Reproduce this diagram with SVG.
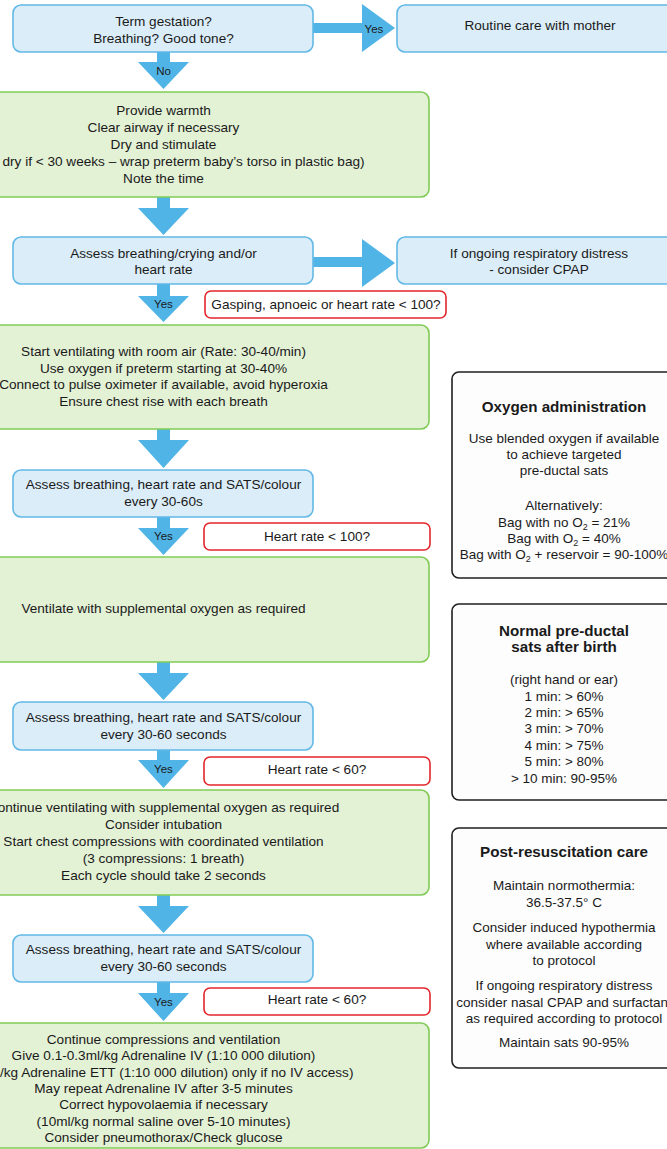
<svg xmlns="http://www.w3.org/2000/svg" width="667" height="1149" viewBox="0 0 667 1149">
<style>
text{font-family:"Liberation Sans",Arial,sans-serif;font-size:13.6px;fill:#1a1a1a;text-anchor:middle}
.blue{fill:#DAEDF8;stroke:#62B8E6;stroke-width:1.6}
.green{fill:#E3F1D5;stroke:#80CB55;stroke-width:1.6}
.red{fill:#FFFFFF;stroke:#E3262B;stroke-width:1.6}
.side{fill:#FDFDFD;stroke:#1f1f1f;stroke-width:1.6}
.arr{fill:#51B4E6}
.lbl{font-size:11.5px}
.ttl{font-weight:bold;font-size:15.2px}
.st{font-size:13.5px}
</style>
<rect width="667" height="1149" fill="#FFFFFF"/>
<g id="connectors">
<polygon class="arr" points="157,52 170,52 170,62 189,62 163.5,89 138,62 157,62"/>
<text class="lbl" x="163.5" y="75">No</text>
<polygon class="arr" points="313,23 362,23 362,4 395,28 362,52 362,33 313,33"/>
<text class="lbl" x="374" y="33">Yes</text>
<polygon class="arr" points="157,197 170,197 170,208 189,208 163.5,235 138,208 157,208"/>
<polygon class="arr" points="313,257 362,257 362,239 395,263 362,287 362,267 313,267"/>
<polygon class="arr" points="157,284 170,284 170,296 189,296 163.5,322 138,296 157,296"/>
<text class="lbl" x="163.5" y="307.5">Yes</text>
<polygon class="arr" points="157,429 170,429 170,440 189,440 163.5,468 138,440 157,440"/>
<polygon class="arr" points="157,517 170,517 170,528 189,528 163.5,555 138,528 157,528"/>
<text class="lbl" x="163.5" y="540">Yes</text>
<polygon class="arr" points="157,662 170,662 170,673 189,673 163.5,700 138,673 157,673"/>
<polygon class="arr" points="157,750 170,750 170,760 189,760 163.5,788 138,760 157,760"/>
<text class="lbl" x="163.5" y="773">Yes</text>
<polygon class="arr" points="157,895 170,895 170,906 189,906 163.5,933 138,906 157,906"/>
<polygon class="arr" points="157,982 170,982 170,993 189,993 163.5,1021 138,993 157,993"/>
<text class="lbl" x="163.5" y="1006">Yes</text>
</g>
<g id="n-term">
<rect class="blue" x="13" y="5" width="300" height="47" rx="8"/>
<text x="163.5" y="25.5">Term gestation?</text>
<text x="163.5" y="42.5">Breathing? Good tone?</text>
</g>
<g id="n-routine">
<rect class="blue" x="397" y="5" width="290" height="47" rx="8"/>
<text x="540" y="30">Routine care with mother</text>
</g>
<g id="n-warmth">
<rect class="green" x="-110" y="92" width="539" height="105" rx="8"/>
<text x="163.5" y="114.5">Provide warmth</text>
<text x="163.5" y="131.5">Clear airway if necessary</text>
<text x="163.5" y="148.5">Dry and stimulate</text>
<text x="163.5" y="165.5">(Don’t dry if &lt; 30 weeks – wrap preterm baby’s torso in plastic bag)</text>
<text x="163.5" y="182.5">Note the time</text>
</g>
<g id="n-assess1">
<rect class="blue" x="13" y="237" width="300" height="47" rx="8"/>
<text x="163.5" y="257.5">Assess breathing/crying and/or</text>
<text x="163.5" y="274.3">heart rate</text>
</g>
<g id="n-cpap">
<rect class="blue" x="397" y="237" width="290" height="47" rx="8"/>
<text x="539" y="257.5">If ongoing respiratory distress</text>
<text x="539" y="274.3">- consider CPAP</text>
</g>
<g id="n-gasping">
<rect class="red" x="205" y="291" width="241" height="27" rx="6"/>
<text x="326" y="309">Gasping, apnoeic or heart rate &lt; 100?</text>
</g>
<g id="n-ventilate">
<rect class="green" x="-110" y="325" width="539" height="104" rx="8"/>
<text x="163.5" y="356">Start ventilating with room air (Rate: 30-40/min)</text>
<text x="163.5" y="372.7">Use oxygen if preterm starting at 30-40%</text>
<text x="163.5" y="389.3">Connect to pulse oximeter if available, avoid hyperoxia</text>
<text x="163.5" y="406">Ensure chest rise with each breath</text>
</g>
<g id="n-assess2">
<rect class="blue" x="13" y="470" width="300" height="47" rx="8"/>
<text x="163.5" y="489">Assess breathing, heart rate and SATS/colour</text>
<text x="163.5" y="506">every 30-60s</text>
</g>
<g id="n-hr100">
<rect class="red" x="204" y="523" width="226" height="27" rx="6"/>
<text x="317" y="540.7">Heart rate &lt; 100?</text>
</g>
<g id="n-supp">
<rect class="green" x="-110" y="557" width="539" height="105" rx="8"/>
<text x="163.5" y="613.3">Ventilate with supplemental oxygen as required</text>
</g>
<g id="n-assess3">
<rect class="blue" x="13" y="702" width="300" height="48" rx="8"/>
<text x="163.5" y="722.3">Assess breathing, heart rate and SATS/colour</text>
<text x="163.5" y="739">every 30-60 seconds</text>
</g>
<g id="n-hr60a">
<rect class="red" x="204" y="757" width="226" height="28" rx="6"/>
<text x="317" y="774.3">Heart rate &lt; 60?</text>
</g>
<g id="n-compress">
<rect class="green" x="-110" y="790" width="539" height="105" rx="8"/>
<text x="163.5" y="812.3">Continue ventilating with supplemental oxygen as required</text>
<text x="163.5" y="829.3">Consider intubation</text>
<text x="163.5" y="846.3">Start chest compressions with coordinated ventilation</text>
<text x="163.5" y="863.3">(3 compressions: 1 breath)</text>
<text x="163.5" y="880.3">Each cycle should take 2 seconds</text>
</g>
<g id="n-assess4">
<rect class="blue" x="13" y="935" width="300" height="47" rx="8"/>
<text x="163.5" y="954.3">Assess breathing, heart rate and SATS/colour</text>
<text x="163.5" y="971">every 30-60 seconds</text>
</g>
<g id="n-hr60b">
<rect class="red" x="204" y="988" width="226" height="27" rx="6"/>
<text x="317" y="1004.3">Heart rate &lt; 60?</text>
</g>
<g id="n-adrenaline">
<rect class="green" x="-110" y="1023" width="539" height="125" rx="8"/>
<text x="163.5" y="1044">Continue compressions and ventilation</text>
<text x="163.5" y="1060.3">Give 0.1-0.3ml/kg Adrenaline IV (1:10 000 dilution)</text>
<text x="163.5" y="1076.6">(1ml/kg Adrenaline ETT (1:10 000 dilution) only if no IV access)</text>
<text x="163.5" y="1092.9">May repeat Adrenaline IV after 3-5 minutes</text>
<text x="163.5" y="1109.2">Correct hypovolaemia if necessary</text>
<text x="163.5" y="1125.5">(10ml/kg normal saline over 5-10 minutes)</text>
<text x="163.5" y="1141.8">Consider pneumothorax/Check glucose</text>
</g>
<g id="n-oxygen">
<rect class="side" x="452" y="372" width="240" height="206" rx="7"/>
<text class="ttl" x="564" y="411.7">Oxygen administration</text>
<text class="st" x="564" y="442.7">Use blended oxygen if available</text>
<text class="st" x="564" y="459">to achieve targeted</text>
<text class="st" x="564" y="475.3">pre-ductal sats</text>
<text class="st" x="564" y="510">Alternatively:</text>
<text class="st" x="564" y="526.7">Bag with no O<tspan font-size="9" dy="3">2</tspan><tspan dy="-3"> = 21%</tspan></text>
<text class="st" x="564" y="542.7">Bag with O<tspan font-size="9" dy="3">2</tspan><tspan dy="-3"> = 40%</tspan></text>
<text class="st" x="564" y="558.7">Bag with O<tspan font-size="9" dy="3">2</tspan><tspan dy="-3"> + reservoir = 90-100%</tspan></text>
</g>
<g id="n-sats">
<rect class="side" x="452" y="604" width="240" height="196" rx="7"/>
<text class="ttl" x="564" y="635.7">Normal pre-ductal</text>
<text class="ttl" x="564" y="651.7">sats after birth</text>
<text class="st" x="564" y="684">(right hand or ear)</text>
<text class="st" x="564" y="700.5">1 min: &gt; 60%</text>
<text class="st" x="564" y="717">2 min: &gt; 65%</text>
<text class="st" x="564" y="733.4">3 min: &gt; 70%</text>
<text class="st" x="564" y="749.8">4 min: &gt; 75%</text>
<text class="st" x="564" y="766.2">5 min: &gt; 80%</text>
<text class="st" x="564" y="782.7">&gt; 10 min: 90-95%</text>
</g>
<g id="n-post">
<rect class="side" x="452" y="828" width="240" height="240" rx="7"/>
<text class="ttl" x="564" y="856.7">Post-resuscitation care</text>
<text class="st" x="564" y="890">Maintain normothermia:</text>
<text class="st" x="564" y="906.5">36.5-37.5° C</text>
<text class="st" x="564" y="932.3">Consider induced hypothermia</text>
<text class="st" x="564" y="948.7">where available according</text>
<text class="st" x="564" y="965">to protocol</text>
<text class="st" x="564" y="990.3">If ongoing respiratory distress</text>
<text class="st" x="564" y="1006.5">consider nasal CPAP and surfactant</text>
<text class="st" x="564" y="1022.7">as required according to protocol</text>
<text class="st" x="564" y="1046.7">Maintain sats 90-95%</text>
</g>
</svg>
